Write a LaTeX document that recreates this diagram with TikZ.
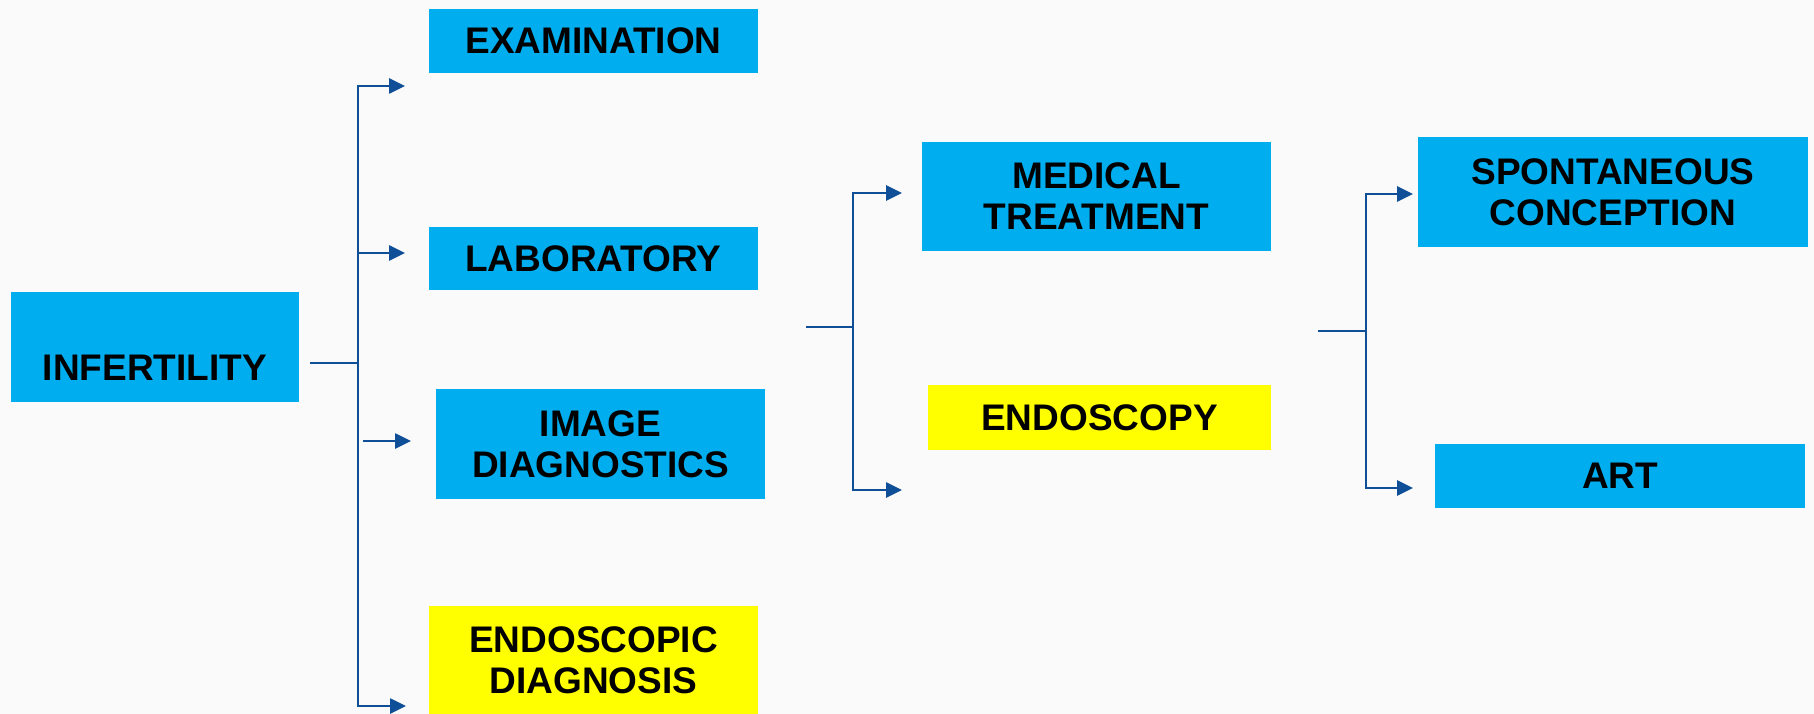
\documentclass[tikz,border=0pt]{standalone}
\usepackage{fontspec}
\setmainfont{Liberation Sans}
\usetikzlibrary{arrows.meta}
\definecolor{boxblue}{HTML}{00AEEF}
\definecolor{boxyellow}{HTML}{FFFF00}
\definecolor{linkblue}{HTML}{0F4F98}
\definecolor{bg}{HTML}{FAFAFA}
\tikzset{
  box/.style={rectangle, inner sep=0pt, fill=boxblue, align=center,
    font=\fontsize{37}{41}\selectfont\bfseries},
  ybox/.style={box, fill=boxyellow},
  bus/.style={draw=linkblue, line width=2.6pt},
  stub/.style={draw=linkblue, line width=2pt},
  arr/.style={bus, -{Triangle[length=16pt,width=15pt]}},
  lbl/.style={inner sep=0pt, align=center, font=\fontsize{37}{41}\selectfont\bfseries},
}
\begin{document}
\begin{tikzpicture}[x=1pt,y=-1pt]
\fill[bg] (0,0) rectangle (1814,714);
\useasboundingbox (0,0) rectangle (1814,714);

% boxes
\node[box, minimum width=288pt, minimum height=110pt] (infbox) at (155,347) {};
\node[lbl] (inf) at (155,368) {INFERTILITY};
\node[box, minimum width=329pt, minimum height=64pt] (exam) at (593.5,41) {EXAMINATION};
\node[box, minimum width=329pt, minimum height=63pt] (lab) at (593.5,258.5) {LABORATORY};
\node[box, minimum width=329pt, minimum height=110pt] (img) at (600.5,444) {IMAGE\\DIAGNOSTICS};
\node[ybox, minimum width=329pt, minimum height=108pt] (endd) at (593.5,660) {ENDOSCOPIC\\DIAGNOSIS};
\node[box, minimum width=349pt, minimum height=109pt] (med) at (1096.5,196.5) {MEDICAL\\TREATMENT};
\node[ybox, minimum width=343pt, minimum height=65pt] (endo) at (1099.5,417.5) {ENDOSCOPY};
\node[box, minimum width=390pt, minimum height=110pt] (spont) at (1613,192) {SPONTANEOUS\\CONCEPTION};
\node[box, minimum width=370pt, minimum height=64pt] (art) at (1620,476) {ART};

% connector points
\coordinate (c0) at (310,363);
\coordinate (v1) at (358,363);
\coordinate (a1) at (405,86);
\coordinate (a2) at (405,253);
\coordinate (b3) at (363,441);
\coordinate (a3) at (411,441);
\coordinate (a4) at (406,706);
\coordinate (c1) at (806,327);
\coordinate (v2) at (853,327);
\coordinate (m1) at (902,193);
\coordinate (m2) at (902,490);
\coordinate (c2) at (1318,331);
\coordinate (v3) at (1366,331);
\coordinate (r1) at (1413,194);
\coordinate (r2) at (1413,488);

% first group
\draw[stub] (c0) -- (v1);
\draw[arr] (v1) |- (a1);
\draw[arr] (v1) |- (a2);
\draw[arr] (v1) |- (a4);
\draw[arr] (b3) -- (a3);

% second group
\draw[stub] (c1) -- (v2);
\draw[arr] (v2) |- (m1);
\draw[arr] (v2) |- (m2);

% third group
\draw[stub] (c2) -- (v3);
\draw[arr] (v3) |- (r1);
\draw[arr] (v3) |- (r2);
\end{tikzpicture}
\end{document}
